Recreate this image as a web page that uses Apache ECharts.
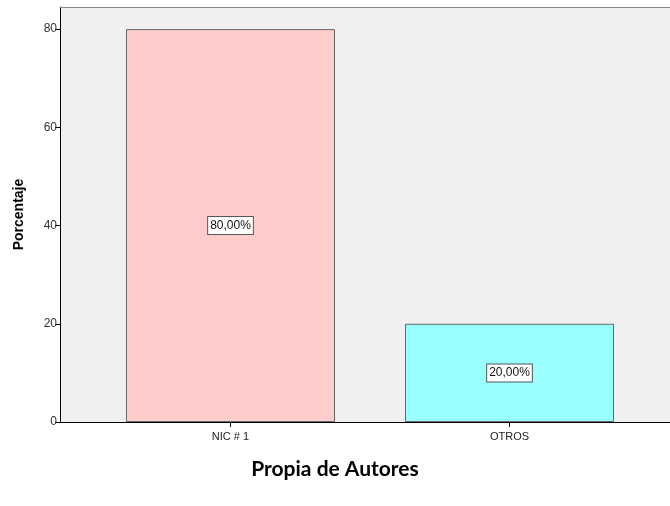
<!DOCTYPE html>
<html>
<head>
<meta charset="utf-8">
<script src="https://cdn.jsdelivr.net/npm/echarts@6/dist/echarts.min.js"></script>
<style>html,body{margin:0;padding:0;background:#fff}#c{width:670px;height:506px}</style>
</head>
<body>
<div id="c"></div>
<script>
const categories = ['NIC # 1', 'OTROS'];
const values = [80, 20];
const yTicks = [0, 20, 40, 60, 80];
const barColors = ['#ffcccc', '#99ffff'];

const chart = echarts.init(document.getElementById('c'), null, {renderer: 'canvas'});
const fmt = v => v.toFixed(2).replace('.', ',') + '%';
chart.setOption({
  animation: false,
  backgroundColor: '#ffffff',
  title: {
    text: 'Propia de Autores', left: 'center', top: 454,
    textStyle: {fontFamily: 'Lato', fontWeight: 'bold', fontSize: 21, color: '#000'}
  },
  grid: [
    {left: 60, width: 630, top: 7, bottom: 84, show: true, backgroundColor: '#f0f0f0', borderWidth: 0},
    {left: 91, width: 558, top: 7, bottom: 84}
  ],
  xAxis: [
    {gridIndex: 0, type: 'value', min: 0, max: 1, axisLine: {show: true, lineStyle: {color: '#000', width: 1}},
     axisTick: {show: false}, axisLabel: {show: false}, splitLine: {show: false}},
    {gridIndex: 1, type: 'category', data: categories, axisLine: {show: false},
     axisTick: {show: true, alignWithLabel: true, length: 5, lineStyle: {color: '#000'}},
     axisLabel: {fontFamily: 'Arial', fontSize: 11, color: '#222', margin: 9}},
    {gridIndex: 0, type: 'value', position: 'top', min: 0, max: 1,
     axisLine: {show: true, lineStyle: {color: '#888', width: 1}},
     axisTick: {show: false}, axisLabel: {show: false}, splitLine: {show: false}}
  ],
  yAxis: [
    {gridIndex: 0, type: 'value', min: 0, max: 84.5, interval: 20,
     name: 'Porcentaje', nameLocation: 'middle', nameGap: 34,
     nameTextStyle: {fontFamily: 'Arial', fontWeight: 'bold', fontSize: 14, color: '#000'},
     axisLine: {show: true, lineStyle: {color: '#000', width: 1}},
     axisTick: {show: true, length: 5, customValues: yTicks, lineStyle: {color: '#000'}},
     axisLabel: {customValues: yTicks, fontFamily: 'Arial', fontSize: 12, color: '#333', margin: 3},
     splitLine: {show: false}},
    {gridIndex: 1, type: 'value', min: 0, max: 84.5, show: false}
  ],
  series: [{
    type: 'bar', xAxisIndex: 1, yAxisIndex: 1, barWidth: 209,
    data: values.map((v, i) => ({value: v, itemStyle: {color: barColors[i]}})),
    itemStyle: {borderColor: '#666', borderWidth: 1},
    label: {show: true, position: 'inside', formatter: p => fmt(p.value),
      fontFamily: 'Arial', fontSize: 12, color: '#111', backgroundColor: '#fff',
      borderColor: '#555', borderWidth: 1, padding: [3, 2, 2, 2]}
  }]
});
</script>
</body>
</html>
